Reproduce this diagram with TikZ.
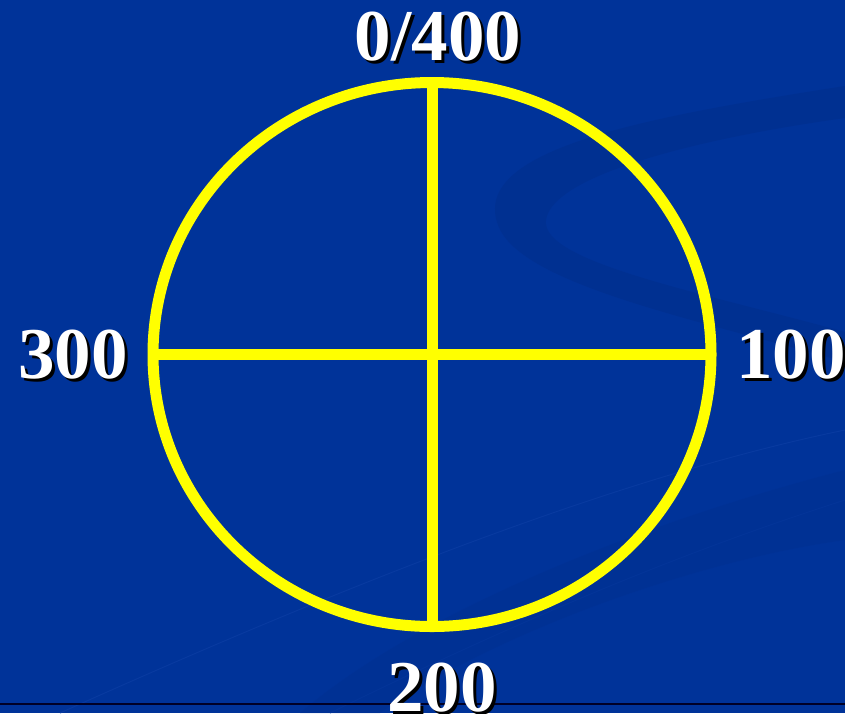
\documentclass[tikz,border=0pt]{standalone}
\usepackage{fontspec}
\setmainfont{Liberation Serif}
\definecolor{slideblue}{RGB}{0,51,153}
\definecolor{swooshblue}{RGB}{0,48,145}
\definecolor{streakblue}{RGB}{8,58,160}
\definecolor{dialyellow}{RGB}{255,255,0}

\tikzset{
  dial/.style={dialyellow, line width=11pt},
  gradlabel/.style={anchor=base, inner sep=0pt, text=white,
    font=\bfseries\fontsize{73}{73}\selectfont},
  gradshadow/.style={gradlabel, text=black, xshift=3pt, yshift=-3pt}
}

\begin{document}
\begin{tikzpicture}[x=1pt, y=-1pt]
				% slide background
				\fill[slideblue] (0,0) rectangle (845,713);
				\useasboundingbox (0,0) rectangle (845,713);
				
				% faint swoosh and streaks of the template
				\fill[swooshblue] (845,86) .. controls (640,118) and (470,150) .. (498,225)
				  .. controls (520,285) and (700,320) .. (845,362) -- (845,332)
				  .. controls (700,292) and (540,262) .. (546,220)
				  .. controls (552,175) and (700,138) .. (845,118) -- cycle;
				\draw[streakblue, line width=1pt] (60,713) .. controls (400,560) and (650,470) .. (845,430);
				\draw[streakblue, line width=1pt] (330,713) .. controls (560,600) and (720,540) .. (845,500);
				\fill[swooshblue, opacity=0.5] (845,470) .. controls (650,520) and (420,610) .. (300,713)
				  -- (380,713) .. controls (500,630) and (700,560) .. (845,540) -- cycle;
				\draw[black!85!blue, line width=2pt] (0,704) -- (845,704);
				
				% the dial: circle and cross
				\coordinate (c) at (432,354.5);
				\coordinate (n) at (432,83);
				\coordinate (s) at (432,627);
				\coordinate (w) at (153,354.5);
				\coordinate (e) at (711,354.5);
				\draw[dial] (c) ellipse [x radius=279, y radius=272];
				\draw[dial] (w) -- (e);
				\draw[dial] (n) -- (s);
				
				% graduations (shadow first, then white text)
				\node[gradshadow] (top-s) at (438,60) {0/400};
				\node[gradlabel] (top) at (438,60) {0/400};
				\node[gradshadow] (right-s) at (791,378) {100};
				\node[gradlabel] (right) at (791,378) {100};
				\node[gradshadow] (bottom-s) at (442,711) {200};
				\node[gradlabel] (bottom) at (442,711) {200};
				\node[gradshadow] (left-s) at (73,378) {300};
				\node[gradlabel] (left) at (73,378) {300};
\end{tikzpicture}
\end{document}
